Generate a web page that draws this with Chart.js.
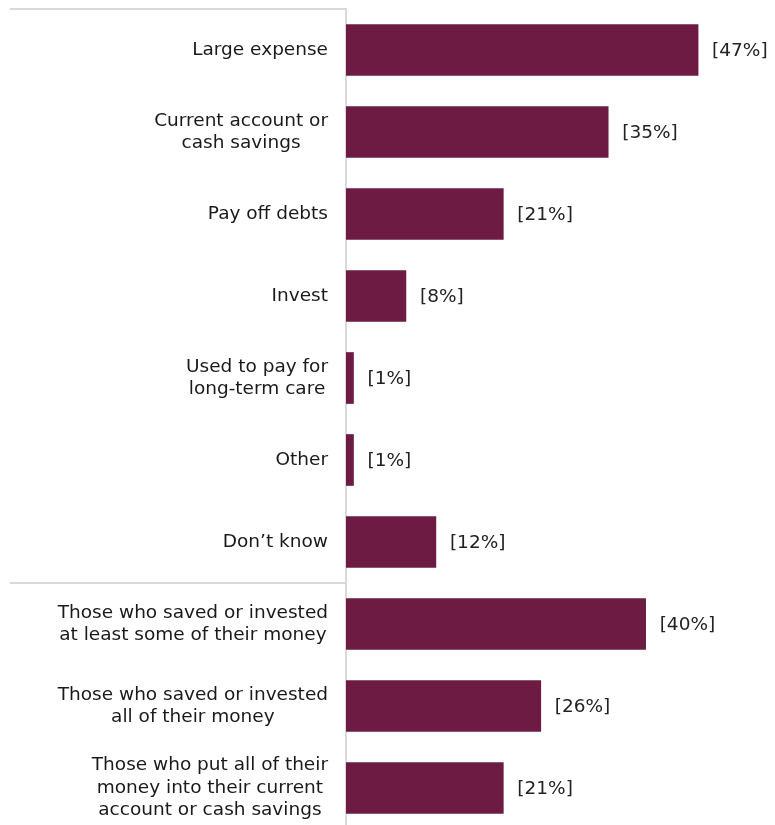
<!DOCTYPE html>
<html>
<head>
<meta charset="utf-8">
<script src="https://cdn.jsdelivr.net/npm/chart.js@4/dist/chart.umd.min.js"></script>
<style>
html,body{margin:0;padding:0;background:#fff;overflow:hidden;}
#wrap{position:relative;width:775px;height:830px;}
</style>
</head>
<body>
<div id="wrap"><canvas id="c"></canvas></div>
<script>
const categories = [
  ["Large expense"],
  ["Current account or", "cash savings"],
  ["Pay off debts"],
  ["Invest"],
  ["Used to pay for", "long-term care"],
  ["Other"],
  ["Don\u2019t know"],
  ["Those who saved or invested", "at least some of their money"],
  ["Those who saved or invested", "all of their money"],
  ["Those who put all of their", "money into their current", "account or cash savings"]
];
const values = [47, 35, 21, 8, 1, 1, 12, 40, 26, 21];
const valueLabels = ["[47%]", "[35%]", "[21%]", "[8%]", "[1%]", "[1%]", "[12%]", "[40%]", "[26%]", "[21%]"];
const separatorAfterIndex = 6;

const FONT = "'DejaVu Sans', Verdana, sans-serif";
const FSIZE = 18.5;
const LINE_H = 22.5;
const LABEL_PAD = 18;

const linesPlugin = {
  id: 'lines',
  afterDraw(chart) {
    const ctx = chart.ctx;
    const y = chart.scales.y;
    const left = 10;
    const right = chart.chartArea.left;
    ctx.save();
    ctx.strokeStyle = '#d9d9d9';
    ctx.lineWidth = 2;
    const yTop = y.getPixelForValue(0) - (y.getPixelForValue(1) - y.getPixelForValue(0)) / 2;
    const ySep = (y.getPixelForValue(separatorAfterIndex) + y.getPixelForValue(separatorAfterIndex + 1)) / 2;
    [yTop, ySep].forEach(py => {
      ctx.beginPath();
      ctx.moveTo(left, Math.round(py));
      ctx.lineTo(right, Math.round(py));
      ctx.stroke();
    });
    ctx.restore();
  }
};

const categoryLabelPlugin = {
  id: 'categoryLabels',
  afterDraw(chart) {
    const ctx = chart.ctx;
    const y = chart.scales.y;
    const rightEdge = chart.chartArea.left - LABEL_PAD;
    ctx.save();
    ctx.font = FSIZE + "px " + FONT;
    ctx.fillStyle = '#1a1a1a';
    ctx.textAlign = 'center';
    ctx.textBaseline = 'middle';
    chart.data.labels.forEach((lines, i) => {
      const cy = y.getPixelForValue(i);
      const maxW = Math.max(...lines.map(l => ctx.measureText(l).width));
      const cx = rightEdge - maxW / 2;
      const startY = cy - (lines.length - 1) * LINE_H / 2;
      lines.forEach((l, k) => ctx.fillText(l, cx, startY + k * LINE_H));
    });
    ctx.restore();
  }
};

const valueLabelPlugin = {
  id: 'valueLabels',
  afterDatasetsDraw(chart) {
    const ctx = chart.ctx;
    const meta = chart.getDatasetMeta(0);
    ctx.save();
    ctx.font = FSIZE + "px " + FONT;
    ctx.fillStyle = '#222222';
    ctx.textAlign = 'left';
    ctx.textBaseline = 'middle';
    meta.data.forEach((bar, i) => {
      ctx.fillText(valueLabels[i], bar.x + 14, bar.y + 1);
    });
    ctx.restore();
  }
};

new Chart(document.getElementById('c'), {
  type: 'bar',
  data: {
    labels: categories,
    datasets: [{
      data: values,
      backgroundColor: '#6e1b43',
      borderWidth: 0,
      barThickness: 51
    }]
  },
  options: {
    indexAxis: 'y',
    responsive: true,
    maintainAspectRatio: false,
    animation: false,
    devicePixelRatio: 1,
    layout: { padding: { top: 9, bottom: 1, left: 0, right: 2 } },
    plugins: { legend: { display: false }, tooltip: { enabled: false } },
    scales: {
      x: {
        display: false,
        min: 0,
        max: 57,
        grid: { display: false }
      },
      y: {
        grid: { display: false, drawTicks: false },
        border: { display: true, color: '#d9d9d9', width: 2 },
        ticks: { display: false },
        afterFit(scale) {
          scale.width = 346;
          scale.paddingTop = 0;
          scale.paddingBottom = 0;
        }
      }
    }
  },
  plugins: [linesPlugin, categoryLabelPlugin, valueLabelPlugin]
});
</script>
</body>
</html>
